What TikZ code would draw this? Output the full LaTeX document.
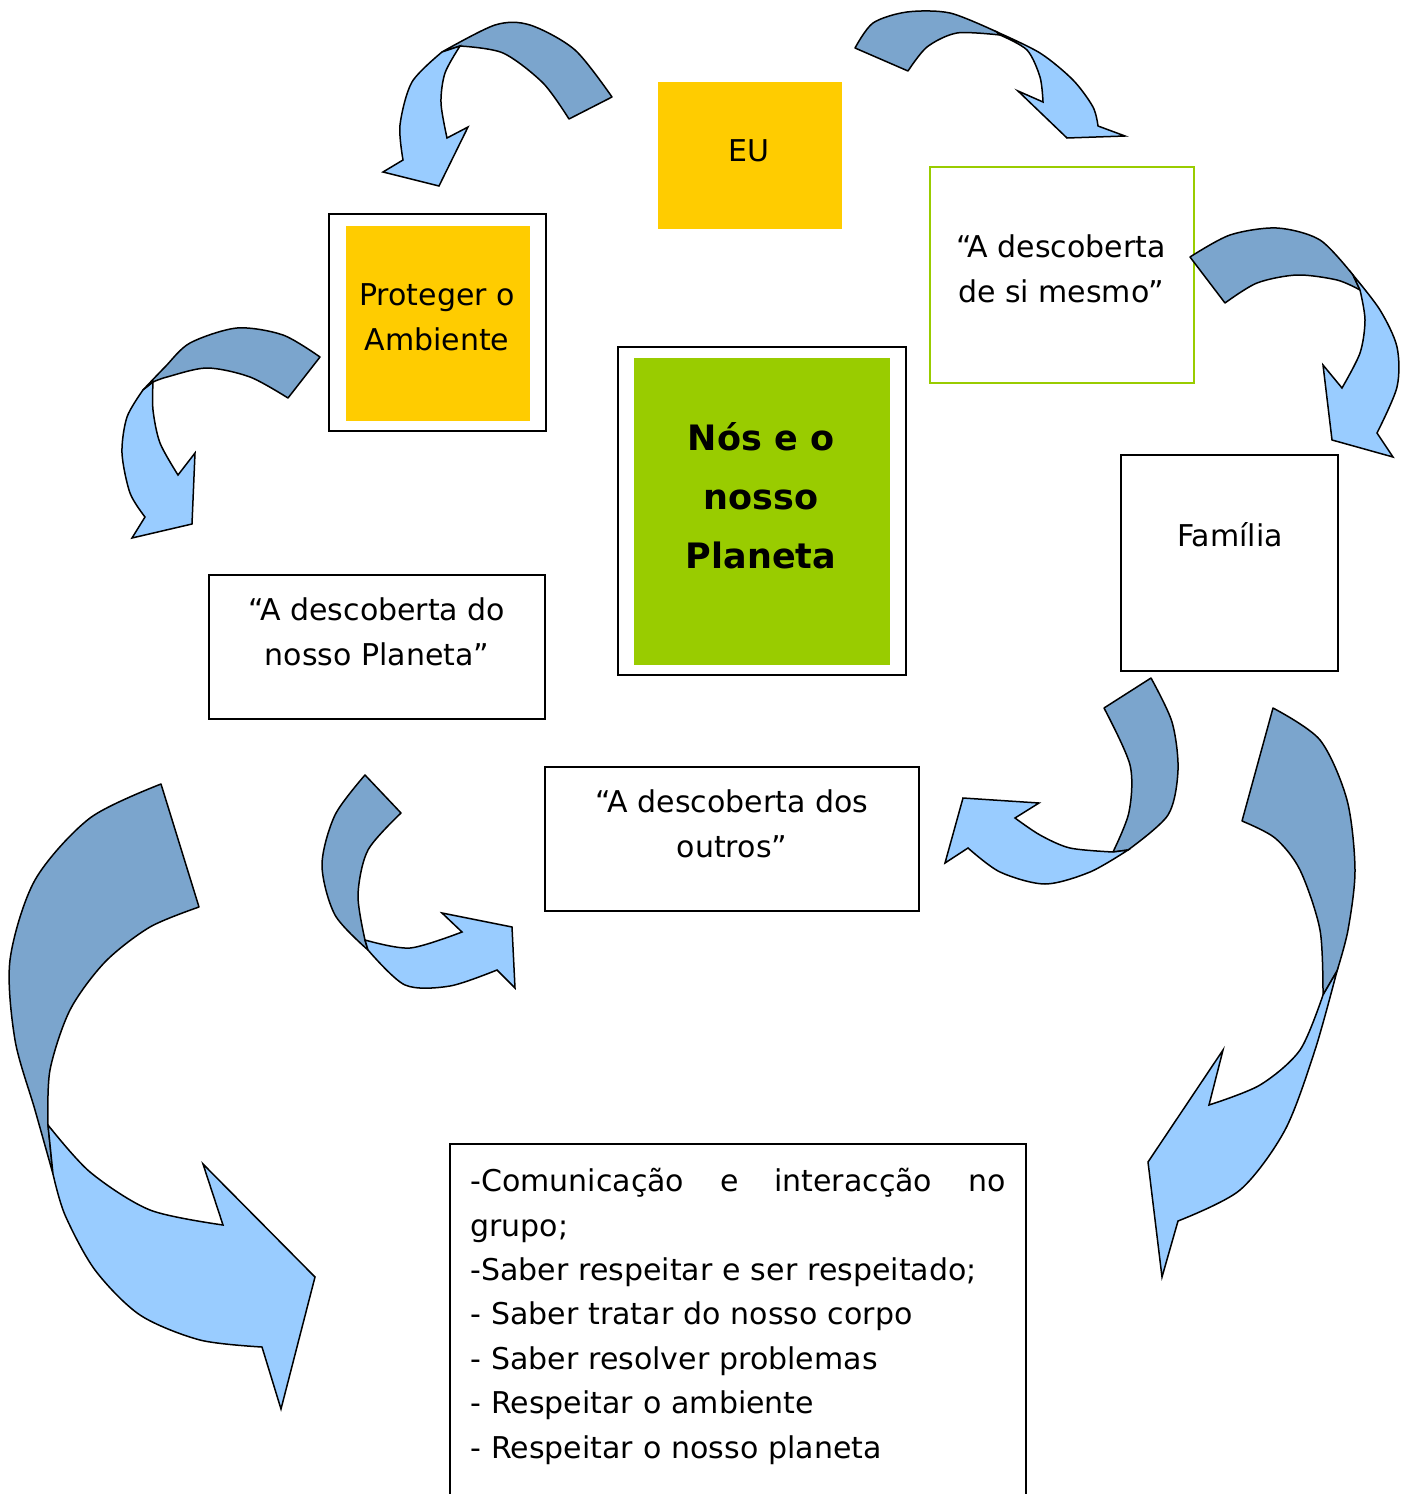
\documentclass[tikz,border=0pt]{standalone}
\usepackage{fontspec}
\setmainfont{DejaVu Sans}
\setlength{\parindent}{0pt}
\definecolor{sunyellow}{HTML}{FFCC00}
\definecolor{leafgreen}{HTML}{99CC00}
\definecolor{arrowdark}{HTML}{7BA5CD}
\definecolor{arrowlight}{HTML}{99CCFF}
\tikzset{
	box/.style={draw=black,line width=1pt,inner sep=0pt},
	txt/.style={font=\fontsize{15}{22.5}\selectfont,align=center,inner sep=0pt},
	back/.style={fill=arrowdark,draw=black,line width=0.75pt,line join=round},
	front/.style={fill=arrowlight,draw=black,line width=0.75pt},
}
\begin{document}
\begin{tikzpicture}[x=0.5pt,y=-0.5pt]
	\useasboundingbox (0,0) rectangle (1410,1494);
	% boxes
	\node[box,draw=none,fill=sunyellow,minimum width=92pt,minimum height=73.5pt] (eu) at (750,155.5) {};
	\node[box,fill=white,minimum width=108.5pt,minimum height=108.5pt] (ambframe) at (437.5,322.5) {};
	\node[box,draw=none,fill=sunyellow,minimum width=92pt,minimum height=97.5pt] (amb) at (438,323.5) {};
	\node[box,draw=leafgreen,minimum width=132pt,minimum height=108pt] (self) at (1062,275) {};
	\node[box,fill=white,minimum width=144pt,minimum height=164pt] (planetframe) at (762,511) {};
	\node[box,draw=none,fill=leafgreen,minimum width=128pt,minimum height=153.5pt] (planet) at (762,511.5) {};
	\node[box,minimum width=108.5pt,minimum height=108pt] (family) at (1229.5,563) {};
	\node[box,minimum width=168pt,minimum height=72pt] (ours) at (377,647) {};
	\node[box,minimum width=187pt,minimum height=72pt] (others) at (732,839) {};
	\node[box,minimum width=288pt,minimum height=178pt] (goals) at (738,1322) {};
	% texts
	\node[txt] (eutext) at (749,151) {EU};
	\node[txt] (ambtext) at (437,317) {Proteger o\\Ambiente};
	\node[txt] (selftext) at (1061,269) {“A descoberta\\de si mesmo”};
	\node[txt,font=\fontsize{17.5}{29.5}\selectfont\bfseries] (planettext) at (761,496) {Nós e o\\nosso\\Planeta};
	\node[txt] (familytext) at (1230,535) {Família};
	\node[txt] (ourstext) at (377,632) {“A descoberta do\\nosso Planeta”};
	\node[txt] (otherstext) at (732,824) {“A descoberta dos\\outros”};
	\node[txt,align=left,text width=267.5pt,anchor=north west,font=\fontsize{15}{22.2}\selectfont] (goalstext) at (470,1168)
		{-Comunicação\hfill e\hfill interacção\hfill no\\grupo;\\-Saber respeitar e ser respeitado;\\- Saber tratar do nosso corpo\\- Saber resolver problemas\\- Respeitar o ambiente\\- Respeitar o nosso planeta};
	% curved arrows
	\filldraw[back] plot[smooth] coordinates {(612,97) (575,50) (530,25) (495,25) (442,52)}
		-- plot[smooth] coordinates {(460,46) (503,53) (543,83) (569,119)} -- cycle;
	\filldraw[front] plot[smooth] coordinates {(442,52) (412,82) (400,125) (403,160)}
		-- (383,172) -- (439,186) -- (468,127)
		-- plot[smooth] coordinates {(447,138) (441,103) (445,73) (460,46)} -- cycle;

	\filldraw[back] plot[smooth] coordinates {(855,48) (873,23) (907,12) (950,13) (997,32)}
		-- plot[smooth] coordinates {(1000,35) (957,33) (927,47) (908,71)} -- cycle;
	\filldraw[front] plot[smooth] coordinates {(997,32) (1040,53) (1073,80) (1093,107) (1098,126)}
		-- (1125,136) -- (1067,138) -- (1018,91)
		-- plot[smooth] coordinates {(1043,102) (1040,77) (1027,50) (1000,35)} -- cycle;

	\filldraw[back] plot[smooth] coordinates {(1190,257) (1230,235) (1277,228) (1320,240) (1353,275)}
		-- plot[smooth] coordinates {(1360,290) (1337,280) (1297,275) (1257,283) (1225,303)} -- cycle;
	\filldraw[front] plot[smooth] coordinates {(1353,275) (1380,310) (1397,347) (1397,387) (1377,433)}
		-- (1393,457) -- (1332,440) -- (1323,365)
		-- plot[smooth] coordinates {(1342,388) (1360,353) (1365,320) (1360,290)} -- cycle;

	\filldraw[back] plot[smooth] coordinates {(320,357) (283,335) (237,328) (190,343) (165,367) (143,390)}
		-- plot[smooth] coordinates {(153,382) (167,377) (207,368) (250,377) (288,398)} -- cycle;
	\filldraw[front] plot[smooth] coordinates {(143,390) (127,417) (122,453) (130,493) (145,517)}
		-- (132,538) -- (192,524) -- (195,453)
		-- plot[smooth] coordinates {(178,475) (160,443) (153,410) (153,382)} -- cycle;

	\filldraw[back] plot[smooth] coordinates {(365,775) (335,815) (322,865) (335,915) (368,950)}
		-- plot[smooth] coordinates {(365,940) (358,895) (368,850) (401,813)} -- cycle;
	\filldraw[front] plot[smooth] coordinates {(365,940) (410,948) (462,932)}
		-- (442,913) -- (512,927) -- (515,988)
		-- plot[smooth] coordinates {(497,970) (450,986) (405,985) (368,950)} -- cycle;

	\filldraw[back] plot[smooth] coordinates {(1151,678) (1172,722) (1178,770) (1168,815) (1128,850)}
		-- plot[smooth] coordinates {(1113,852) (1129,812) (1130,765) (1104,708)} -- cycle;
	\filldraw[front] plot[smooth] coordinates {(1113,852) (1070,848) (1040,835) (1015,818)}
		-- (1039,803) -- (963,798) -- (945,863)
		-- plot[smooth] coordinates {(968,848) (1000,872) (1045,884) (1090,872) (1128,850)} -- cycle;

	\filldraw[back] plot[smooth] coordinates {(161,784) (90,818) (35,880) (10,960) (15,1040) (35,1110) (53,1174)}
		-- plot[smooth] coordinates {(48,1125) (50,1070) (70,1010) (105,962) (150,927) (199,907)} -- cycle;
	\filldraw[front] plot[smooth] coordinates {(48,1125) (90,1172) (150,1210) (223,1225)}
		-- (203,1164) -- (315,1277) -- (281,1409)
		-- plot[smooth] coordinates {(262,1347) (200,1340) (140,1315) (95,1270) (65,1215) (53,1174)} -- cycle;

	\filldraw[back] plot[smooth] coordinates {(1273,708) (1320,740) (1347,800) (1355,870) (1348,930) (1337,971)}
		-- plot[smooth] coordinates {(1323,995) (1320,930) (1300,870) (1275,838) (1242,821)} -- cycle;
	\filldraw[front] plot[smooth] coordinates {(1337,971) (1315,1050) (1285,1130) (1240,1190) (1178,1221)}
		-- (1162,1277) -- (1148,1162) -- (1223,1050)
		-- plot[smooth] coordinates {(1209,1105) (1260,1085) (1300,1050) (1323,995)} -- cycle;
\end{tikzpicture}
\end{document}
